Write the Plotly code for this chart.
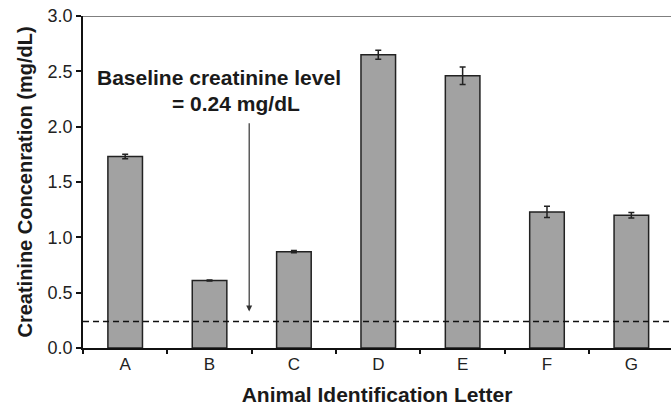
import plotly.graph_objects as go

# Serum creatinine per animal
animals = ["A", "B", "C", "D", "E", "F", "G"]
creatinine = [1.73, 0.61, 0.87, 2.65, 2.46, 1.23, 1.20]
creatinine_err = [0.02, 0.005, 0.01, 0.04, 0.08, 0.05, 0.025]
baseline = 0.24
y_ticks = [0.0, 0.5, 1.0, 1.5, 2.0, 2.5, 3.0]

FONT = "Liberation Sans, Arial, sans-serif"
INK = "#1a1a1a"

fig = go.Figure()

fig.add_trace(go.Bar(
    x=animals,
    y=creatinine,
    marker=dict(color="#a2a2a2", line=dict(color="#222222", width=1.5)),
    error_y=dict(type="data", array=creatinine_err, visible=True,
                 color="#222222", thickness=1.5, width=3),
    width=0.41,
    showlegend=False,
))

# Baseline level as a dashed reference across the plot
fig.add_shape(type="line", xref="paper", x0=0, x1=1, yref="y",
              y0=baseline, y1=baseline,
              line=dict(color="#111111", width=1.5, dash="6px,4px"))

# Top frame line
fig.add_shape(type="line", xref="paper", x0=0, x1=1, yref="y",
              y0=3.0, y1=3.0, line=dict(color="#555555", width=1.5))

# Callout text and arrow pointing to the baseline
fig.add_annotation(x=1.11, y=2.44, xref="x", yref="y",
                   text="<b>Baseline creatinine level</b>", showarrow=False,
                   font=dict(family=FONT, size=21, color=INK))
fig.add_annotation(x=1.31, y=2.21, xref="x", yref="y",
                   text="<b>= 0.24 mg/dL</b>", showarrow=False,
                   font=dict(family=FONT, size=21, color=INK))
fig.add_annotation(x=1.47, y=baseline + 0.09, ax=1.47, ay=2.045,
                   xref="x", yref="y", axref="x", ayref="y",
                   text="", showarrow=True, arrowhead=2, arrowsize=1,
                   arrowwidth=1.2, arrowcolor="#333333")

fig.update_layout(
    width=671, height=407,
    margin=dict(l=83, r=0, t=16, b=59),
    plot_bgcolor="white", paper_bgcolor="white",
    font=dict(family=FONT, size=18, color=INK),
    bargap=0.59,
    xaxis=dict(
        range=[-0.5, 6.47],
        showline=True, linecolor="#111111", linewidth=1.5,
        ticks="outside", ticklen=4, tickwidth=1.5, tickcolor="#111111",
        tickson="boundaries", showgrid=False, zeroline=False,
        tickfont=dict(family=FONT, size=17, color="#222222"),
        title=dict(text="<b>Animal Identification Letter</b>", standoff=14,
                   font=dict(family=FONT, size=21, color=INK)),
    ),
    yaxis=dict(
        range=[0, 3.0],
        tickvals=y_ticks, tickformat=".1f",
        showline=True, linecolor="#111111", linewidth=1.5,
        ticks="outside", ticklen=5, tickwidth=1.5, tickcolor="#111111",
        showgrid=False, zeroline=False,
        tickfont=dict(family=FONT, size=18, color="#222222"),
        title=dict(text="<b>Creatinine Concenration (mg/dL)</b>", standoff=10,
                   font=dict(family=FONT, size=20, color=INK)),
    ),
)

fig.write_html("out.html")
